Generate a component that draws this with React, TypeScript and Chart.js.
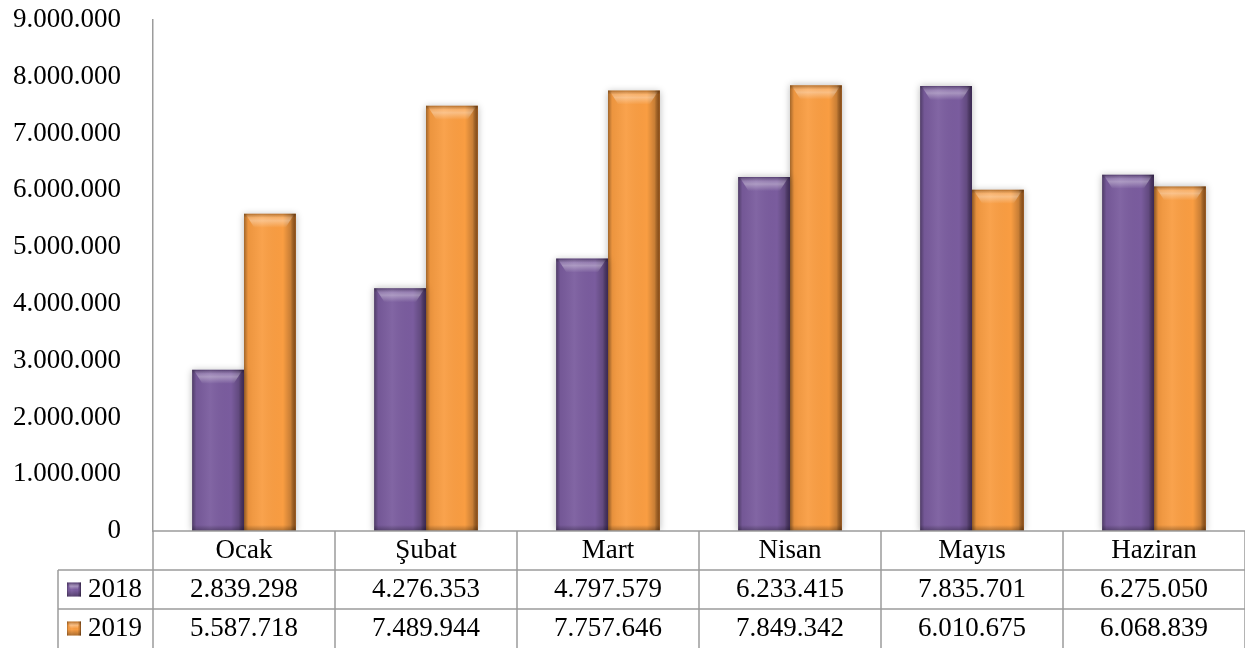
import React, { useEffect, useRef } from "react";
import { Chart, registerables } from "chart.js";

Chart.register(...registerables);

const months = ["Ocak", "Şubat", "Mart", "Nisan", "Mayıs", "Haziran"];
const seriesLabels = ["2018", "2019"];
const values2018 = [2839298, 4276353, 4797579, 6233415, 7835701, 6275050];
const values2019 = [5587718, 7489944, 7757646, 7849342, 6010675, 6068839];
const yTickMax = 9000000;
const yTickStep = 1000000;

const FONT = "'Liberation Serif', serif";
const FONT_SIZE = 27;
const GRID = "#9c9c9c";
const baseColors = ["#7a5c9e", "#f99d42"];
const darkColors = ["rgba(40,25,60,0.75)", "rgba(110,55,10,0.8)"];

const fmt = (n: number) => String(Math.round(n)).replace(/\B(?=(\d{3})+(?!\d))/g, ".");

function shadeRect(ctx: CanvasRenderingContext2D, left: number, top: number, w: number, h: number, dark: string) {
  if (h <= 0) return;
  const g = ctx.createLinearGradient(left, 0, left + w, 0);
  g.addColorStop(0, "rgba(0,0,0,0.35)");
  g.addColorStop(0.08, "rgba(0,0,0,0.05)");
  g.addColorStop(0.35, "rgba(255,255,255,0.06)");
  g.addColorStop(0.75, "rgba(0,0,0,0)");
  g.addColorStop(0.9, "rgba(0,0,0,0.2)");
  g.addColorStop(1, dark);
  ctx.fillStyle = g;
  ctx.fillRect(left, top, w, h);
  const bh = Math.min(14, h / 2);
  const tg = ctx.createLinearGradient(0, top, 0, top + bh);
  tg.addColorStop(0, "rgba(255,255,255,0.05)");
  tg.addColorStop(0.5, "rgba(255,255,255,0.35)");
  tg.addColorStop(1, "rgba(255,255,255,0)");
  ctx.fillStyle = tg;
  ctx.beginPath();
  ctx.moveTo(left + 2, top + 1);
  ctx.lineTo(left + w - 2, top + 1);
  ctx.lineTo(left + w * 0.8, top + bh);
  ctx.lineTo(left + w * 0.2, top + bh);
  ctx.closePath();
  ctx.fill();
  const eg = ctx.createLinearGradient(0, top, 0, top + 4);
  eg.addColorStop(0, "rgba(0,0,0,0.25)");
  eg.addColorStop(1, "rgba(0,0,0,0)");
  ctx.fillStyle = eg;
  ctx.fillRect(left, top, w, 4);
  const bg = ctx.createLinearGradient(0, top + h - 6, 0, top + h);
  bg.addColorStop(0, "rgba(0,0,0,0)");
  bg.addColorStop(1, "rgba(0,0,0,0.3)");
  ctx.fillStyle = bg;
  ctx.fillRect(left, top + h - 6, w, 6);
}

const bevelPlugin = {
  id: "bevel",
  beforeDatasetsDraw(chart: any) {
    const ctx = chart.ctx;
    ctx.save();
    ctx.shadowColor = "rgba(0,0,0,0.28)";
    ctx.shadowBlur = 7;
  },
  afterDatasetsDraw(chart: any) {
    const ctx = chart.ctx;
    ctx.restore();
    ctx.save();
    chart.data.datasets.forEach((ds: any, di: number) => {
      const meta = chart.getDatasetMeta(di);
      meta.data.forEach((el: any) => {
        const { x, y, base, width } = el.getProps(["x", "y", "base", "width"], true);
        shadeRect(ctx, x - width / 2, y, width, base - y, darkColors[di]);
      });
    });
    ctx.restore();
  },
};

const tablePlugin = {
  id: "dataTable",
  afterDraw(chart: any) {
    const ctx = chart.ctx as CanvasRenderingContext2D;
    const area = chart.chartArea;
    const xs = chart.scales.x;
    const n = months.length;
    const rowH = 39;
    const top = area.bottom;
    const legendLeft = 50;
    const bounds: number[] = [area.left];
    for (let i = 0; i < n - 1; i++) {
      bounds.push((xs.getPixelForValue(i) + xs.getPixelForValue(i + 1)) / 2);
    }
    bounds.push(area.right);
    ctx.save();
    ctx.strokeStyle = GRID;
    ctx.lineWidth = 1.5;
    ctx.beginPath();
    ctx.moveTo(area.left, top);
    ctx.lineTo(area.right, top);
    for (let r = 1; r <= 2; r++) {
      ctx.moveTo(legendLeft, top + rowH * r);
      ctx.lineTo(area.right, top + rowH * r);
    }
    ctx.moveTo(legendLeft, top + rowH);
    ctx.lineTo(legendLeft, top + rowH * 3);
    bounds.forEach((b) => {
      ctx.moveTo(b, top);
      ctx.lineTo(b, top + rowH * 3);
    });
    ctx.stroke();

    ctx.fillStyle = "#000";
    ctx.font = `${FONT_SIZE}px ${FONT}`;
    ctx.textAlign = "center";
    ctx.textBaseline = "middle";
    months.forEach((m, i) => {
      const cx = xs.getPixelForValue(i);
      ctx.fillText(m, cx, top + rowH * 0.5);
      ctx.fillText(fmt(values2018[i]), cx, top + rowH * 1.5);
      ctx.fillText(fmt(values2019[i]), cx, top + rowH * 2.5);
    });
    seriesLabels.forEach((s, si) => {
      const cy = top + rowH * (1.5 + si);
      const sq = 14;
      const sx = 59;
      ctx.fillStyle = baseColors[si];
      ctx.fillRect(sx, cy - sq / 2, sq, sq);
      shadeRect(ctx, sx, cy - sq / 2, sq, sq, darkColors[si]);
      ctx.fillStyle = "#000";
      ctx.textAlign = "left";
      ctx.fillText(s, 80, cy);
    });
    ctx.restore();
  },
};

export default function App() {
  const ref = useRef<HTMLCanvasElement | null>(null);
  useEffect(() => {
    if (!ref.current) return;
    const chart = new Chart(ref.current, {
      type: "bar",
      data: {
        labels: months,
        datasets: [
          {
            label: seriesLabels[0],
            data: values2018,
            backgroundColor: baseColors[0],
            categoryPercentage: 0.57,
            barPercentage: 1.0,
          },
          {
            label: seriesLabels[1],
            data: values2019,
            backgroundColor: baseColors[1],
            categoryPercentage: 0.57,
            barPercentage: 1.0,
          },
        ],
      },
      options: {
        animation: false,
        responsive: true,
        maintainAspectRatio: false,
        layout: { padding: { top: 12, bottom: 117, left: 0, right: 0 } },
        plugins: { legend: { display: false }, tooltip: { enabled: false } },
        scales: {
          x: { display: false, grid: { display: false } },
          y: {
            min: 0,
            max: yTickMax,
            ticks: {
              stepSize: yTickStep,
              callback: (v: any) => fmt(Number(v)),
              color: "#000",
              font: { family: FONT, size: FONT_SIZE },
              padding: 32,
            },
            grid: { display: false, drawTicks: false },
            border: { display: true, color: GRID, width: 1.5 },
            afterFit: (s: any) => {
              s.width = 145;
              s.paddingTop = 0;
              s.paddingBottom = 0;
            },
          },
        },
      },
      plugins: [bevelPlugin, tablePlugin],
    });
    return () => chart.destroy();
  }, []);
  return (
    <div style={{ width: 1237, height: 640, position: "relative" }}>
      <canvas ref={ref} />
    </div>
  );
}
